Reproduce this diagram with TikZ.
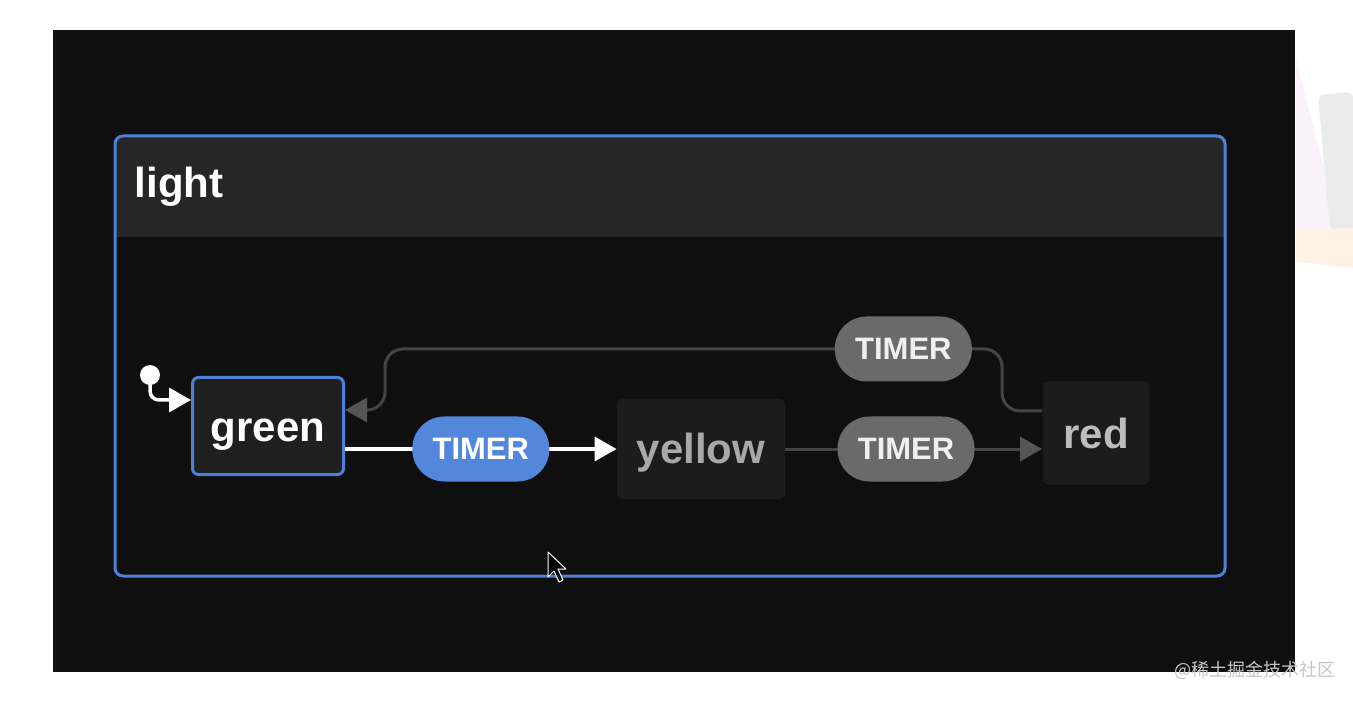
\documentclass[tikz,border=0pt]{standalone}
\usepackage{fontspec}
\setmainfont{Liberation Sans}
\newfontfamily\cjk{Noto Sans CJK SC}
\usetikzlibrary{arrows.meta, positioning}

\definecolor{screenbg}{HTML}{0F0F0F}
\definecolor{headerbg}{HTML}{262626}
\definecolor{stateblue}{HTML}{4E80D8}
\definecolor{pillblue}{HTML}{5387DC}
\definecolor{pillgray}{HTML}{6A6A6A}
\definecolor{statefill}{HTML}{1F1F1F}
\definecolor{dimfill}{HTML}{1C1C1C}
\definecolor{edgegray}{HTML}{444444}
\definecolor{tipgray}{HTML}{555555}

\begin{document}
\begin{tikzpicture}[x=1pt, y=-1pt, thick]
        % Define block styles
        \tikzstyle{activenode} = [rectangle, draw=stateblue, fill=statefill, line width=3pt, rounded corners=6pt, minimum width=151pt, minimum height=97pt, text height=30pt, text depth=0pt, text=white, font=\fontsize{42}{50}\selectfont\bfseries]
        \tikzstyle{idlenode} = [rectangle, fill=dimfill, rounded corners=6pt, minimum height=100pt, text height=30pt, text depth=0pt, font=\fontsize{42}{50}\selectfont\bfseries]
        \tikzstyle{bluepill} = [rectangle, fill=pillblue, rounded corners=32pt, minimum width=137pt, minimum height=65pt, text=white, font=\fontsize{31}{36}\selectfont\bfseries]
        \tikzstyle{graypill} = [bluepill, fill=pillgray, text=white!94!black]
        \tikzstyle{line} = [draw, white, line width=3.5pt, -{Triangle[length=22pt, width=24pt]}]
        \tikzstyle{backline} = [draw, edgegray, line width=3pt, -{Triangle[length=22pt, width=24pt, fill=tipgray, color=tipgray]}]

        % Background and frame
        \useasboundingbox (0,0) rectangle (1353,703);
        \fill[white] (0,0) rectangle (1353,703);
        \fill[violet!5] (1296,60) -- (1340,230) -- (1296,250) -- cycle;
        \fill[black!8, rounded corners=6pt] (1318,95) -- (1353,92) -- (1353,232) -- (1330,230) -- cycle;
        \fill[orange!10] (1296,230) -- (1353,228) -- (1353,268) -- (1296,262) -- cycle;
        \fill[screenbg] (53,30) rectangle (1295,672);

        % Parent state
        \fill[headerbg, rounded corners=8pt] (115,136) rectangle (1225,237);
        \fill[headerbg] (115,200) rectangle (1225,237);
        \draw[stateblue, line width=3pt, rounded corners=8pt] (115,136) rectangle (1225,576);
        \node[anchor=west, text=white, font=\fontsize{42}{50}\selectfont\bfseries] (light) at (131,187) {light};

        % Define nodes
        \node[activenode] (green) at (268,426) {green};
        \node[idlenode, minimum width=168pt, text=white!66!black] (yellow) at (701,449) {yellow};
        \node[idlenode, minimum width=107pt, minimum height=103pt, text=white!74!black] (red) at (1096,433) {red};
        \node[circle, fill=white, minimum size=20pt, inner sep=0pt] (init) at (150,375) {};

        % Connect nodes with paths
        \draw[line, rounded corners=9pt] (init.center) |- ([yshift=26pt]green.west);
        \draw[line] (green.east |- yellow.west) -- node[bluepill, pos=0.5] (t1) {TIMER} (yellow.west);
        \draw[backline] (yellow.east) -- node[graypill, pos=0.47] (t2) {TIMER} (red.west |- yellow.east);
        \draw[backline, rounded corners=18pt] ([yshift=22pt]red.west) -- ++(-40,0) |- node[graypill, pos=0.58] (t3) {TIMER} (385,349) |- ([yshift=16pt]green.east);

        % Cursor
        \draw[white, line width=1pt, fill=black, line join=round] (548,552) -- (548,577) -- (554,571) -- (559,582) -- (563,580) -- (558,569) -- (566,569) -- cycle;

        % Watermark
        \node[anchor=west, text=black!22, font=\fontsize{18}{22}\selectfont] (mark) at (1171,670) {\cjk @稀土掘金技术社区};

    \end{tikzpicture}
\end{document}
